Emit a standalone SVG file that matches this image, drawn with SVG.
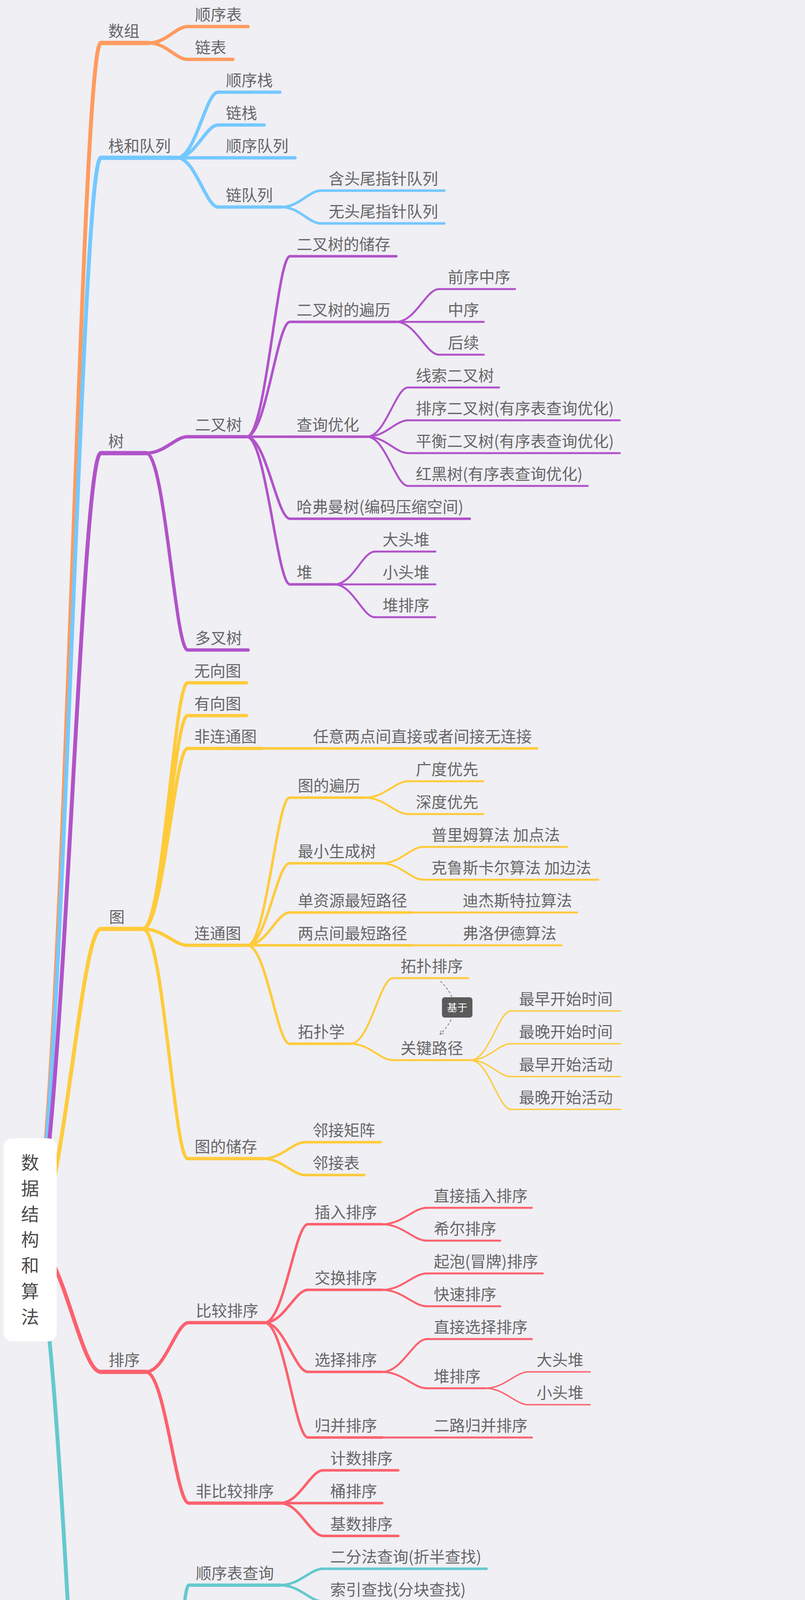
<svg xmlns="http://www.w3.org/2000/svg" width="2060" height="6350" viewBox="0 0 2060 6350">
<defs>
<style>
.t{font-family:"Noto Sans CJK SC","Noto Sans",sans-serif;font-size:40px;fill:#666666}
.rt{font-family:"Noto Sans CJK SC","Noto Sans",sans-serif;font-size:46px;fill:#4a4a4a;text-anchor:middle}
.u,.e{fill:none;stroke-linecap:round}
.co{stroke:#FF9B5E}.cb{stroke:#74C8FF}.cp{stroke:#B152C9}.cy{stroke:#FFCB3B}.cr{stroke:#FC616D}.ct{stroke:#64C9CD}
.w0{stroke-width:10}.w1{stroke-width:11}.w2{stroke-width:8.5}.w3{stroke-width:6.5}.w4{stroke-width:5}.w5{stroke-width:3.5}
.rel{fill:none;stroke:#7a7a7a;stroke-width:2;stroke-dasharray:6 5}
</style>
<marker id="arr" viewBox="0 0 12 12" refX="10" refY="6" markerWidth="12" markerHeight="12" markerUnits="userSpaceOnUse" orient="auto">
<path d="M1 1L10 6L1 11" fill="none" stroke="#7a7a7a" stroke-width="1.6"/>
</marker>
</defs>
<rect width="2060" height="6350" fill="#EFEFF4"/>

<g id="connectors">
<path class="e co w0" d="M77 3174C158 3174 204 110 258 110"/>
<path class="e cb w0" d="M77 3174C158 3174 204 404 258 404"/>
<path class="e cp w0" d="M77 3174C158 3174 204 1160 258 1160"/>
<path class="e cy w0" d="M77 3174C158 3174 204 2378 258 2378"/>
<path class="e cr w0" d="M77 3174C158 3174 204 3512 258 3512"/>
<path class="e ct w0" d="M77 3174C158 3174 204 5177 258 5177"/>
<path class="e co w2" d="M381 110C425.6 110 450.3 68 480 68"/>
<path class="e co w2" d="M381 110C425.6 110 450.3 152 480 152"/>
<path class="e cb w2" d="M453 404C500 404 526.5 236 558 236"/>
<path class="e cb w2" d="M453 404C500 404 526.5 320 558 320"/>
<path class="e cb w2" d="M453 404H558"/>
<path class="e cb w2" d="M453 404C500 404 526.5 530 558 530"/>
<path class="e cb w3" d="M720 530C765.5 530 790.7 488 821 488"/>
<path class="e cb w3" d="M720 530C765.5 530 790.7 572 821 572"/>
<path class="e cp w2" d="M374 1160C421.7 1160 448.2 1118 480 1118"/>
<path class="e cp w2" d="M374 1160C421.7 1160 448.2 1664 480 1664"/>
<path class="e cp w3" d="M631 1118C681 1118 708.7 656 742 656"/>
<path class="e cp w3" d="M631 1118C681 1118 708.7 824 742 824"/>
<path class="e cp w3" d="M631 1118H742"/>
<path class="e cp w3" d="M631 1118C681 1118 708.7 1328 742 1328"/>
<path class="e cp w3" d="M631 1118C681 1118 708.7 1496 742 1496"/>
<path class="e cp w4" d="M1014 824C1063 824 1090.3 740 1123 740"/>
<path class="e cp w4" d="M1014 824H1123"/>
<path class="e cp w4" d="M1014 824C1063 824 1090.3 908 1123 908"/>
<path class="e cp w4" d="M939 1118C986.3 1118 1012.5 992 1044 992"/>
<path class="e cp w4" d="M939 1118C986.3 1118 1012.5 1076 1044 1076"/>
<path class="e cp w4" d="M939 1118C986.3 1118 1012.5 1160 1044 1160"/>
<path class="e cp w4" d="M939 1118C986.3 1118 1012.5 1244 1044 1244"/>
<path class="e cp w4" d="M856 1496C902.4 1496 928.1 1412 959 1412"/>
<path class="e cp w4" d="M856 1496H959"/>
<path class="e cp w4" d="M856 1496C902.4 1496 928.1 1580 959 1580"/>
<path class="e cy w2" d="M366 2378C417.3 2378 445.8 1748 480 1748"/>
<path class="e cy w2" d="M366 2378C417.3 2378 445.8 1832 480 1832"/>
<path class="e cy w2" d="M366 2378C417.3 2378 445.8 1916 480 1916"/>
<path class="e cy w2" d="M366 2378C417.3 2378 445.8 2420 480 2420"/>
<path class="e cy w2" d="M366 2378C417.3 2378 445.8 2966 480 2966"/>
<path class="e cy w3" d="M669 1916H782"/>
<path class="e cy w3" d="M633 2420C681.6 2420 708.6 2042 741 2042"/>
<path class="e cy w3" d="M633 2420C681.6 2420 708.6 2210 741 2210"/>
<path class="e cy w3" d="M633 2420C681.6 2420 708.6 2336 741 2336"/>
<path class="e cy w3" d="M633 2420H741"/>
<path class="e cy w3" d="M633 2420C681.6 2420 708.6 2672 741 2672"/>
<path class="e cy w4" d="M934 2042C983.5 2042 1011 2000 1044 2000"/>
<path class="e cy w4" d="M934 2042C983.5 2042 1011 2084 1044 2084"/>
<path class="e cy w4" d="M976 2210C1024.2 2210 1050.9 2168 1083 2168"/>
<path class="e cy w4" d="M976 2210C1024.2 2210 1050.9 2252 1083 2252"/>
<path class="e cy w4" d="M1053 2336H1160"/>
<path class="e cy w4" d="M1053 2420H1160"/>
<path class="e cy w4" d="M897 2672C945.6 2672 972.6 2504 1005 2504"/>
<path class="e cy w4" d="M897 2672C945.6 2672 972.6 2714 1005 2714"/>
<path class="e cy w5" d="M1204 2714C1250.4 2714 1276.1 2588 1307 2588"/>
<path class="e cy w5" d="M1204 2714C1250.4 2714 1276.1 2672 1307 2672"/>
<path class="e cy w5" d="M1204 2714C1250.4 2714 1276.1 2756 1307 2756"/>
<path class="e cy w5" d="M1204 2714C1250.4 2714 1276.1 2840 1307 2840"/>
<path class="e cy w3" d="M673 2966C721.6 2966 748.6 2924 781 2924"/>
<path class="e cy w3" d="M673 2966C721.6 2966 748.6 3008 781 3008"/>
<path class="e cr w2" d="M373 3512C422.5 3512 450 3386 483 3386"/>
<path class="e cr w2" d="M373 3512C422.5 3512 450 3848 483 3848"/>
<path class="e cr w3" d="M677 3386C727 3386 754.7 3134 788 3134"/>
<path class="e cr w3" d="M677 3386C727 3386 754.7 3302 788 3302"/>
<path class="e cr w3" d="M677 3386C727 3386 754.7 3512 788 3512"/>
<path class="e cr w3" d="M677 3386C727 3386 754.7 3680 788 3680"/>
<path class="e cr w4" d="M978 3134C1029.3 3134 1057.8 3092 1092 3092"/>
<path class="e cr w4" d="M978 3134C1029.3 3134 1057.8 3176 1092 3176"/>
<path class="e cr w4" d="M978 3302C1029.3 3302 1057.8 3260 1092 3260"/>
<path class="e cr w4" d="M978 3302C1029.3 3302 1057.8 3344 1092 3344"/>
<path class="e cr w4" d="M978 3512C1029.3 3512 1057.8 3428 1092 3428"/>
<path class="e cr w4" d="M978 3512C1029.3 3512 1057.8 3554 1092 3554"/>
<path class="e cr w4" d="M978 3680H1092"/>
<path class="e cr w5" d="M1242 3554C1291.5 3554 1319 3512 1352 3512"/>
<path class="e cr w5" d="M1242 3554C1291.5 3554 1319 3596 1352 3596"/>
<path class="e cr w3" d="M717 3848C766.5 3848 794 3764 827 3764"/>
<path class="e cr w3" d="M717 3848H827"/>
<path class="e cr w3" d="M717 3848C766.5 3848 794 3932 827 3932"/>
<path class="e ct w2" d="M381 5177C426.9 5177 452.4 4058 483 4058"/>
<path class="e ct w2" d="M381 5177C426.9 5177 452.4 4926 483 4926"/>
<path class="e ct w2" d="M381 5177C426.9 5177 452.4 6046 483 6046"/>
<path class="e ct w3" d="M717 4058C766.5 4058 794 4016 827 4016"/>
<path class="e ct w3" d="M717 4058C766.5 4058 794 4100 827 4100"/>
<path class="e ct w3" d="M677 4926C726.5 4926 754 4339 787 4339"/>
<path class="e ct w3" d="M677 4926C726.5 4926 754 4703 787 4703"/>
<path class="e ct w3" d="M677 4926C726.5 4926 754 5290 787 5290"/>
<path class="e ct w4" d="M1097 4339C1146.5 4339 1174 4212 1207 4212"/>
<path class="e ct w4" d="M1097 4339C1146.5 4339 1174 4323 1207 4323"/>
<path class="e ct w4" d="M1097 4339C1146.5 4339 1174 4408 1207 4408"/>
<path class="e ct w4" d="M1097 4339C1146.5 4339 1174 4491 1207 4491"/>
<path class="e ct w5" d="M1318 4212C1367 4212 1394.3 4240 1427 4240"/>
<path class="e ct w4" d="M1095 4703C1145.4 4703 1173.4 4575 1207 4575"/>
<path class="e ct w4" d="M1095 4703C1145.4 4703 1173.4 4660 1207 4660"/>
<path class="e ct w4" d="M1095 4703C1145.4 4703 1173.4 4744 1207 4744"/>
<path class="e ct w4" d="M1095 4703C1145.4 4703 1173.4 4828 1207 4828"/>
<path class="e ct w5" d="M1318 4575H1427"/>
<path class="e ct w4" d="M1019 5290C1069 5290 1096.7 5164 1130 5164"/>
<path class="e ct w4" d="M1019 5290C1069 5290 1096.7 5499 1130 5499"/>
<path class="e ct w4" d="M1019 5290C1069 5290 1096.7 5583 1130 5583"/>
<path class="e ct w4" d="M1019 5290C1069 5290 1096.7 5667 1130 5667"/>
<path class="e ct w5" d="M1243 5164C1292 5164 1319.3 4968 1352 4968"/>
<path class="e ct w5" d="M1243 5164C1292 5164 1319.3 5052 1352 5052"/>
<path class="e ct w5" d="M1243 5164C1292 5164 1319.3 5136 1352 5136"/>
<path class="e ct w5" d="M1243 5164C1292 5164 1319.3 5276 1352 5276"/>
<path class="e ct w5" d="M1243 5164C1292 5164 1319.3 5416 1352 5416"/>
<path class="e ct w3" d="M863 6046C913 6046 940.7 5919 974 5919"/>
<path class="e ct w3" d="M863 6046C913 6046 940.7 6255 974 6255"/>
<path class="e ct w4" d="M1251 5919C1298.7 5919 1325.2 5751 1357 5751"/>
<path class="e ct w4" d="M1251 5919C1298.7 5919 1325.2 5835 1357 5835"/>
<path class="e ct w4" d="M1251 5919H1357"/>
<path class="e ct w4" d="M1251 5919C1298.7 5919 1325.2 6003 1357 6003"/>
<path class="e ct w4" d="M1251 5919C1298.7 5919 1325.2 6087 1357 6087"/>
<path class="e ct w4" d="M1251 6255C1298.7 6255 1325.2 6214 1357 6214"/>
<path class="e ct w4" d="M1251 6255C1298.7 6255 1325.2 6339 1357 6339"/>
<path class="e ct w5" d="M1588 6214C1638 6214 1665.7 6171 1699 6171"/>
<path class="e ct w5" d="M1588 6214C1638 6214 1665.7 6255 1699 6255"/>
<path class="rel" d="M1127 2512Q1197 2579 1126 2648" marker-end="url(#arr)"/>
</g>

<g id="root">
<rect x="9" y="2914" width="136" height="520" rx="22" fill="#FFFFFF"/>
<text class="rt" x="77" y="2993">数</text>
<text class="rt" x="77" y="3059">据</text>
<text class="rt" x="77" y="3125">结</text>
<text class="rt" x="77" y="3190">构</text>
<text class="rt" x="77" y="3256">和</text>
<text class="rt" x="77" y="3322">算</text>
<text class="rt" x="77" y="3388">法</text>
</g>

<g id="rel-label">
<rect x="1131" y="2553" width="78" height="52" rx="7" fill="#5B5B5B"/>
<text x="1170" y="2589" text-anchor="middle" style="font-family:'Noto Sans CJK SC',sans-serif;font-size:26px;fill:#FFFFFF">基于</text>
</g>

<g id="n-shuzu"><path class="u co w1" d="M258 110H381"/><text class="t" x="277" y="94">数组</text></g>
<g id="n-shunxubiao"><path class="u co w2" d="M480 68H635"/><text class="t" x="499" y="52">顺序表</text></g>
<g id="n-lianbiao"><path class="u co w2" d="M480 152H596"/><text class="t" x="499" y="136">链表</text></g>

<g id="n-zhan"><path class="u cb w1" d="M258 404H453"/><text class="t" x="277" y="388">栈和队列</text></g>
<g id="n-sxz"><path class="u cb w2" d="M558 236H716"/><text class="t" x="578" y="220">顺序栈</text></g>
<g id="n-lz"><path class="u cb w2" d="M558 320H676"/><text class="t" x="578" y="304">链栈</text></g>
<g id="n-sxdl"><path class="u cb w2" d="M558 404H755"/><text class="t" x="578" y="388">顺序队列</text></g>
<g id="n-ldl"><path class="u cb w2" d="M558 530H720"/><text class="t" x="578" y="514">链队列</text></g>
<g id="n-htw"><path class="u cb w3" d="M821 488H1137"/><text class="t" x="841" y="472">含头尾指针队列</text></g>
<g id="n-wtw"><path class="u cb w3" d="M821 572H1137"/><text class="t" x="841" y="556">无头尾指针队列</text></g>

<g id="n-shu"><path class="u cp w1" d="M258 1160H374"/><text class="t" x="277" y="1144">树</text></g>
<g id="n-ecs"><path class="u cp w2" d="M480 1118H631"/><text class="t" x="499" y="1102">二叉树</text></g>
<g id="n-dcs"><path class="u cp w2" d="M480 1664H635"/><text class="t" x="499" y="1648">多叉树</text></g>
<g id="n-ecs-cc"><path class="u cp w3" d="M742 656H1014"/><text class="t" x="759" y="640">二叉树的储存</text></g>
<g id="n-ecs-bl"><path class="u cp w3" d="M742 824H1014"/><text class="t" x="759" y="808">二叉树的遍历</text></g>
<g id="n-qxzx"><path class="u cp w4" d="M1123 740H1318"/><text class="t" x="1146" y="724">前序中序</text></g>
<g id="n-zx"><path class="u cp w4" d="M1123 824H1238"/><text class="t" x="1146" y="808">中序</text></g>
<g id="n-hx"><path class="u cp w4" d="M1123 908H1238"/><text class="t" x="1146" y="892">后续</text></g>
<g id="n-cxyh"><path class="u cp w3" d="M742 1118H939"/><text class="t" x="759" y="1102">查询优化</text></g>
<g id="n-xsecs"><path class="u cp w4" d="M1044 992H1277"/><text class="t" x="1064" y="976">线索二叉树</text></g>
<g id="n-pxecs"><path class="u cp w4" d="M1044 1076H1586"/><text class="t" x="1064" y="1060">排序二叉树(有序表查询优化)</text></g>
<g id="n-phecs"><path class="u cp w4" d="M1044 1160H1586"/><text class="t" x="1064" y="1144">平衡二叉树(有序表查询优化)</text></g>
<g id="n-hhs"><path class="u cp w4" d="M1044 1244H1504"/><text class="t" x="1064" y="1228">红黑树(有序表查询优化)</text></g>
<g id="n-hfm"><path class="u cp w3" d="M742 1328H1202"/><text class="t" x="759" y="1312">哈弗曼树(编码压缩空间)</text></g>
<g id="n-dui"><path class="u cp w3" d="M742 1496H856"/><text class="t" x="759" y="1480">堆</text></g>
<g id="n-dtd"><path class="u cp w4" d="M959 1412H1114"/><text class="t" x="979" y="1396">大头堆</text></g>
<g id="n-xtd"><path class="u cp w4" d="M959 1496H1114"/><text class="t" x="979" y="1480">小头堆</text></g>
<g id="n-dpx"><path class="u cp w4" d="M959 1580H1114"/><text class="t" x="979" y="1564">堆排序</text></g>

<g id="n-tu"><path class="u cy w1" d="M258 2378H366"/><text class="t" x="279" y="2362">图</text></g>
<g id="n-wxt"><path class="u cy w2" d="M480 1748H631"/><text class="t" x="497" y="1732">无向图</text></g>
<g id="n-yxt"><path class="u cy w2" d="M480 1832H631"/><text class="t" x="497" y="1816">有向图</text></g>
<g id="n-fltt"><path class="u cy w2" d="M480 1916H669"/><text class="t" x="497" y="1900">非连通图</text></g>
<g id="n-rylj"><path class="u cy w3" d="M782 1916H1374"/><text class="t" x="801" y="1900">任意两点间直接或者间接无连接</text></g>
<g id="n-ltt"><path class="u cy w2" d="M480 2420H633"/><text class="t" x="497" y="2404">连通图</text></g>
<g id="n-tbl"><path class="u cy w3" d="M741 2042H934"/><text class="t" x="762" y="2026">图的遍历</text></g>
<g id="n-gdyx"><path class="u cy w4" d="M1044 2000H1237"/><text class="t" x="1064" y="1984">广度优先</text></g>
<g id="n-sdyx"><path class="u cy w4" d="M1044 2084H1237"/><text class="t" x="1064" y="2068">深度优先</text></g>
<g id="n-zxscs"><path class="u cy w3" d="M741 2210H976"/><text class="t" x="762" y="2194">最小生成树</text></g>
<g id="n-plm"><path class="u cy w4" d="M1083 2168H1451"/><text class="t" x="1104" y="2152">普里姆算法 加点法</text></g>
<g id="n-klsk"><path class="u cy w4" d="M1083 2252H1531"/><text class="t" x="1104" y="2236">克鲁斯卡尔算法 加边法</text></g>
<g id="n-dzy"><path class="u cy w3" d="M741 2336H1053"/><text class="t" x="762" y="2320">单资源最短路径</text></g>
<g id="n-djst"><path class="u cy w4" d="M1160 2336H1477"/><text class="t" x="1184" y="2320">迪杰斯特拉算法</text></g>
<g id="n-ldj"><path class="u cy w3" d="M741 2420H1053"/><text class="t" x="762" y="2404">两点间最短路径</text></g>
<g id="n-flyd"><path class="u cy w4" d="M1160 2420H1437"/><text class="t" x="1184" y="2404">弗洛伊德算法</text></g>
<g id="n-tpx"><path class="u cy w3" d="M741 2672H897"/><text class="t" x="762" y="2656">拓扑学</text></g>
<g id="n-tppx"><path class="u cy w4" d="M1005 2504H1198"/><text class="t" x="1025" y="2488">拓扑排序</text></g>
<g id="n-gjlj"><path class="u cy w4" d="M1005 2714H1204"/><text class="t" x="1025" y="2698">关键路径</text></g>
<g id="n-zzsj"><path class="u cy w5" d="M1307 2588H1588"/><text class="t" x="1328" y="2572">最早开始时间</text></g>
<g id="n-zwsj"><path class="u cy w5" d="M1307 2672H1588"/><text class="t" x="1328" y="2656">最晚开始时间</text></g>
<g id="n-zzhd"><path class="u cy w5" d="M1307 2756H1588"/><text class="t" x="1328" y="2740">最早开始活动</text></g>
<g id="n-zwhd"><path class="u cy w5" d="M1307 2840H1588"/><text class="t" x="1328" y="2824">最晚开始活动</text></g>
<g id="n-tcc"><path class="u cy w2" d="M480 2966H673"/><text class="t" x="498" y="2950">图的储存</text></g>
<g id="n-ljjz"><path class="u cy w3" d="M781 2924H974"/><text class="t" x="800" y="2908">邻接矩阵</text></g>
<g id="n-ljb"><path class="u cy w3" d="M781 3008H932"/><text class="t" x="800" y="2992">邻接表</text></g>

<g id="n-px"><path class="u cr w1" d="M258 3512H373"/><text class="t" x="278" y="3496">排序</text></g>
<g id="n-bjpx"><path class="u cr w2" d="M483 3386H677"/><text class="t" x="501" y="3370">比较排序</text></g>
<g id="n-crpx"><path class="u cr w3" d="M788 3134H978"/><text class="t" x="805" y="3118">插入排序</text></g>
<g id="n-zjcr"><path class="u cr w4" d="M1092 3092H1361"/><text class="t" x="1110" y="3076">直接插入排序</text></g>
<g id="n-xepx"><path class="u cr w4" d="M1092 3176H1280"/><text class="t" x="1110" y="3160">希尔排序</text></g>
<g id="n-jhpx"><path class="u cr w3" d="M788 3302H978"/><text class="t" x="805" y="3286">交换排序</text></g>
<g id="n-qppx"><path class="u cr w4" d="M1092 3260H1389"/><text class="t" x="1110" y="3244">起泡(冒牌)排序</text></g>
<g id="n-kspx"><path class="u cr w4" d="M1092 3344H1280"/><text class="t" x="1110" y="3328">快速排序</text></g>
<g id="n-xzpx"><path class="u cr w3" d="M788 3512H978"/><text class="t" x="805" y="3496">选择排序</text></g>
<g id="n-zjxz"><path class="u cr w4" d="M1092 3428H1361"/><text class="t" x="1110" y="3412">直接选择排序</text></g>
<g id="n-dpx2"><path class="u cr w4" d="M1092 3554H1242"/><text class="t" x="1110" y="3538">堆排序</text></g>
<g id="n-dtd2"><path class="u cr w5" d="M1352 3512H1510"/><text class="t" x="1373" y="3496">大头堆</text></g>
<g id="n-xtd2"><path class="u cr w5" d="M1352 3596H1510"/><text class="t" x="1373" y="3580">小头堆</text></g>
<g id="n-gbpx"><path class="u cr w3" d="M788 3680H978"/><text class="t" x="805" y="3664">归并排序</text></g>
<g id="n-elgb"><path class="u cr w4" d="M1092 3680H1361"/><text class="t" x="1110" y="3664">二路归并排序</text></g>
<g id="n-fbj"><path class="u cr w2" d="M483 3848H717"/><text class="t" x="501" y="3832">非比较排序</text></g>
<g id="n-jspx"><path class="u cr w3" d="M827 3764H1019"/><text class="t" x="845" y="3748">计数排序</text></g>
<g id="n-tpx2"><path class="u cr w3" d="M827 3848H978"/><text class="t" x="845" y="3832">桶排序</text></g>
<g id="n-jspx2"><path class="u cr w3" d="M827 3932H1019"/><text class="t" x="845" y="3916">基数排序</text></g>

<g id="n-cx"><path class="u ct w1" d="M258 5177H381"/><text class="t" x="277" y="5161">查询</text></g>
<g id="n-sxbcx"><path class="u ct w2" d="M483 4058H717"/><text class="t" x="501" y="4042">顺序表查询</text></g>
<g id="n-effcx"><path class="u ct w3" d="M827 4016H1245"/><text class="t" x="845" y="4000">二分法查询(折半查找)</text></g>
<g id="n-sycz"><path class="u ct w3" d="M827 4100H1205"/><text class="t" x="845" y="4084">索引查找(分块查找)</text></g>
<g id="n-sbcx"><path class="u ct w2" d="M483 4926H677"/><text class="t" x="500" y="4910">数表查询</text></g>
<g id="n-bst"><path class="u ct w3" d="M787 4339H1097"/><text class="t" x="804" y="4323">二叉排序树BST</text></g>
<g id="n-bst-xz"><path class="u ct w4" d="M1207 4212H1318"/><text class="t" x="1226" y="4196">性质</text></g>
<g id="n-bst-xz1"><path class="u ct w5" d="M1427 4240H2022"/><text class="t" x="1449" y="4168">左子节点大于当前节点，小于后</text><text class="t" x="1449" y="4224">节点</text></g>
<g id="n-bst-cz"><path class="u ct w4" d="M1207 4323H1318"/><text class="t" x="1226" y="4307">查找</text></g>
<g id="n-bst-cr"><path class="u ct w4" d="M1207 4408H1318"/><text class="t" x="1226" y="4392">插入</text></g>
<g id="n-bst-sc"><path class="u ct w4" d="M1207 4491H1318"/><text class="t" x="1226" y="4475">删除</text></g>
<g id="n-avl"><path class="u ct w3" d="M787 4703H1095"/><text class="t" x="804" y="4687">平衡二叉树AVL</text></g>
<g id="n-avl-xz"><path class="u ct w4" d="M1207 4575H1318"/><text class="t" x="1226" y="4559">性质</text></g>
<g id="n-avl-xz1"><path class="u ct w5" d="M1427 4575H1884"/><text class="t" x="1449" y="4559">左右子树深度相差2失衡</text></g>
<g id="n-avl-cz"><path class="u ct w4" d="M1207 4660H1318"/><text class="t" x="1226" y="4644">查找</text></g>
<g id="n-avl-cr"><path class="u ct w4" d="M1207 4744H1437"/><text class="t" x="1226" y="4728">插入后平衡</text></g>
<g id="n-avl-sc"><path class="u ct w4" d="M1207 4828H1437"/><text class="t" x="1226" y="4812">删除后平衡</text></g>
<g id="n-rbt"><path class="u ct w3" d="M787 5290H1019"/><text class="t" x="804" y="5274">红黑树RBT</text></g>
<g id="n-rbt-xz"><path class="u ct w4" d="M1130 5164H1243"/><text class="t" x="1150" y="5148">性质</text></g>
<g id="n-rbt-1"><path class="u ct w5" d="M1352 4968H1944"/><text class="t" x="1372" y="4896">每个节点要么是黑色，要么是红</text><text class="t" x="1372" y="4952">色</text></g>
<g id="n-rbt-2"><path class="u ct w5" d="M1352 5052H1624"/><text class="t" x="1372" y="5036">根节点是黑色</text></g>
<g id="n-rbt-3"><path class="u ct w5" d="M1352 5136H1886"/><text class="t" x="1372" y="5120">每个叶子节点（NIL）是黑色</text></g>
<g id="n-rbt-4"><path class="u ct w5" d="M1352 5276H1944"/><text class="t" x="1372" y="5204">每个红色结点的两个子结点一定</text><text class="t" x="1372" y="5260">都是黑色</text></g>
<g id="n-rbt-5"><path class="u ct w5" d="M1352 5416H1944"/><text class="t" x="1372" y="5344">任意一结点到每个叶子结点的路</text><text class="t" x="1372" y="5400">径都包含数量相同的黑结点</text></g>
<g id="n-rbt-cz"><path class="u ct w4" d="M1130 5499H1241"/><text class="t" x="1148" y="5483">查找</text></g>
<g id="n-rbt-cr"><path class="u ct w4" d="M1130 5583H1362"/><text class="t" x="1148" y="5567">插入后平衡</text></g>
<g id="n-rbt-sc"><path class="u ct w4" d="M1130 5667H1362"/><text class="t" x="1148" y="5651">删除后平衡</text></g>
<g id="n-slb"><path class="u ct w2" d="M483 6046H863"/><text class="t" x="500" y="6030">散列表(哈希表)查询</text></g>
<g id="n-hssj"><path class="u ct w3" d="M974 5919H1251"/><text class="t" x="992" y="5903">函数设计方案</text></g>
<g id="n-szfx"><path class="u ct w4" d="M1357 5751H1588"/><text class="t" x="1377" y="5735">数字分析法</text></g>
<g id="n-qyf"><path class="u ct w4" d="M1357 5835H1508"/><text class="t" x="1377" y="5819">取余法</text></g>
<g id="n-pfqz"><path class="u ct w4" d="M1357 5919H1588"/><text class="t" x="1377" y="5903">平方取中法</text></g>
<g id="n-zdf"><path class="u ct w4" d="M1357 6003H1508"/><text class="t" x="1377" y="5987">折叠法</text></g>
<g id="n-qt"><path class="u ct w4" d="M1357 6087H1467"/><text class="t" x="1377" y="6071">其他</text></g>
<g id="n-ctjj"><path class="u ct w3" d="M974 6255H1251"/><text class="t" x="992" y="6239">冲突解决方案</text></g>
<g id="n-kfdz"><path class="u ct w4" d="M1357 6214H1588"/><text class="t" x="1377" y="6198">开放地址法</text></g>
<g id="n-xxtc"><path class="u ct w5" d="M1699 6171H1931"/><text class="t" x="1721" y="6155">线性探测法</text></g>
<g id="n-sslhs"><path class="u ct w5" d="M1699 6255H2052"/><text class="t" x="1721" y="6239">双散列函数探测法</text></g>
<g id="n-ldzf"><path class="u ct w4" d="M1357 6339H1548"/><text class="t" x="1377" y="6323">链地址法</text></g>
</svg>
